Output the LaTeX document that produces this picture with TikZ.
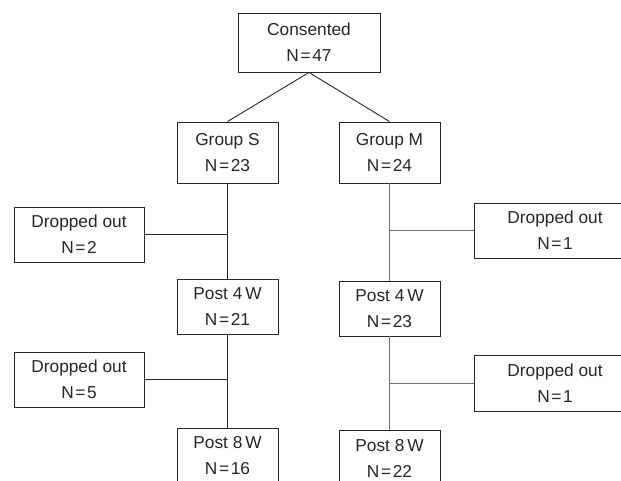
\documentclass[tikz,border=0pt]{standalone}
\usepackage{fontspec}
\setmainfont{Liberation Sans}
\begin{document}
\begin{tikzpicture}[x=1pt,y=-1pt,
  box/.style={draw=black!85, line width=0.9pt, rectangle, inner sep=0pt, align=center,
    text=black!85, font=\fontsize{17.3}{26}\selectfont},
  conn/.style={draw=black!85, line width=0.9pt},
  connm/.style={draw=black!55, line width=0.9pt}]
\useasboundingbox (0,0) rectangle (621,481);
\clip (0,0) rectangle (621,481);
\newcommand{\Nq}[1]{N\kern1.6pt=\kern1.6pt#1}
% nodes
\node[box, minimum width=142pt, minimum height=59pt] (cons) at (309,42.5) {Consented\\\Nq{47}};
\node[box, minimum width=101pt, minimum height=61pt] (gs) at (227.5,152.5) {Group S\\\Nq{23}};
\node[box, minimum width=101pt, minimum height=61pt] (gm) at (389.5,152.5) {Group M\\\Nq{24}};
\node[box, minimum width=130pt, minimum height=55pt] (d1) at (79,234.5) {Dropped out\\\Nq{2}};
\node[box, minimum width=162pt, minimum height=55pt] (d2) at (555,230.5) {Dropped out\\\Nq{1}};
\node[box, minimum width=101pt, minimum height=55pt] (p4s) at (227.5,306.5) {Post 4\,W\\\Nq{21}};
\node[box, minimum width=101pt, minimum height=55pt] (p4m) at (389.5,308.5) {Post 4\,W\\\Nq{23}};
\node[box, minimum width=130pt, minimum height=55pt] (d3) at (79,379.5) {Dropped out\\\Nq{5}};
\node[box, minimum width=162pt, minimum height=56pt] (d4) at (555,383) {Dropped out\\\Nq{1}};
\node[box, minimum width=101pt, minimum height=56pt] (p8s) at (227.5,456) {Post 8\,W\\\Nq{16}};
\node[box, minimum width=101pt, minimum height=56pt] (p8m) at (389.5,458) {Post 8\,W\\\Nq{22}};
% connectors
\draw[conn] (cons.south) -- (gs.north);
\draw[conn] (cons.south) -- (gm.north);
\draw[conn] (gs.south) -- (p4s.north);
\draw[conn] (p4s.south) -- (p8s.north);
\draw[connm] (gm.south) -- (p4m.north);
\draw[connm] (p4m.south) -- (p8m.north);
\coordinate (j1) at (gs.south |- d1.east);
\coordinate (j2) at (gm.south |- d2.west);
\coordinate (j3) at (gs.south |- d3.east);
\coordinate (j4) at (gm.south |- d4.west);
\draw[conn] (d1.east) -- (j1);
\draw[connm] (j2) -- (d2.west);
\draw[conn] (d3.east) -- (j3);
\draw[connm] (j4) -- (d4.west);
\end{tikzpicture}
\end{document}
